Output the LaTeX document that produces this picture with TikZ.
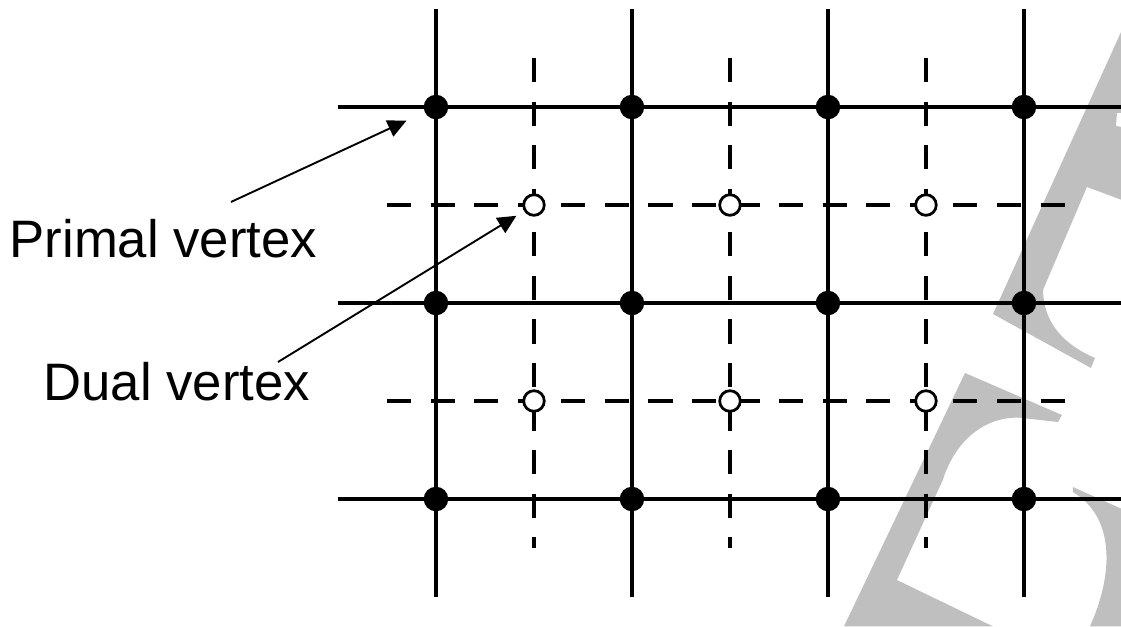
\documentclass[tikz,border=0pt]{standalone}
\usepackage{fontspec}
\setmainfont{Liberation Sans}
\usetikzlibrary{arrows.meta}

\begin{document}
\begin{tikzpicture}[
    primal/.style={circle,fill=black,inner sep=0pt,outer sep=0pt,minimum size=2.5mm},
    dual/.style={circle,draw=black,fill=white,line width=0.8pt,inner sep=0pt,outer sep=0pt,minimum size=2.1mm},
    dual edge/.style={line width=0.95pt,dash pattern=on 7pt off 5.65pt},
    pointer/.style={line width=0.55pt,-{Triangle[length=5.4pt,width=5.1pt]}},
    tag/.style={inner sep=0pt,font=\fontsize{15.3}{18}\selectfont}]
            \useasboundingbox (-4.449,-1.296) rectangle (6.990,5.092);
            \fill[lightgray] (7.0,4.786) -- (5.684,1.888) -- (6.684,1.337) -- (6.724,1.439)
                .. controls (6.40,1.58) and (6.20,1.80) .. (6.194,2.133) -- (6.643,3.184) -- (7.0,3.051)
                -- (7.0,3.796) -- (6.939,3.806) -- (6.949,3.939) -- (7.0,3.939) -- cycle;
            \fill[lightgray] (5.398,1.286) -- (6.388,0.857) -- (6.347,0.786) -- (5.95,0.83)
                .. controls (5.60,0.84) and (5.30,0.60) .. (5.17,0.19) -- (4.704,-0.827)
                -- (5.684,-1.3) -- (4.163,-1.3) -- cycle;
            \fill[lightgray] (6.5,0.122) -- (7.0,-0.102) -- (7.0,-1.3) -- (6.673,-1.3)
                .. controls (6.90,-0.80) and (6.95,-0.20) .. (6.5,0.071) -- cycle;
            \foreach \x in {1,3,5} \draw[dual edge] (\x,4.5) -- (\x,-0.5);
            \foreach \y in {1,3} \draw[dual edge] (-0.5,\y) -- (6.5,\y);
            \draw[line width=0.95pt,step=2] (-1,-1) grid (7,5);
            \foreach \x in {0,2,4,6} \foreach \y in {0,2,4} \node[primal] (p\x\y) at (\x,\y) {};
            \foreach \x in {1,3,5} \foreach \y in {1,3} \node[dual] (d\x\y) at (\x,\y) {};
            \node[tag,anchor=base west] (primal label) at (-4.357,2.469) {Primal vertex};
            \node[tag,anchor=base west] (dual label) at (-4.012,1.010) {Dual vertex};
            \coordinate (primal tail) at (-2.092,3.031);
            \coordinate (dual tail) at (-1.612,1.398);
            \draw[pointer,shorten >=5.9pt] (primal tail) -- (p04);
            \draw[pointer,shorten >=3pt] (dual tail) -- (d13);
\end{tikzpicture}
\end{document}
